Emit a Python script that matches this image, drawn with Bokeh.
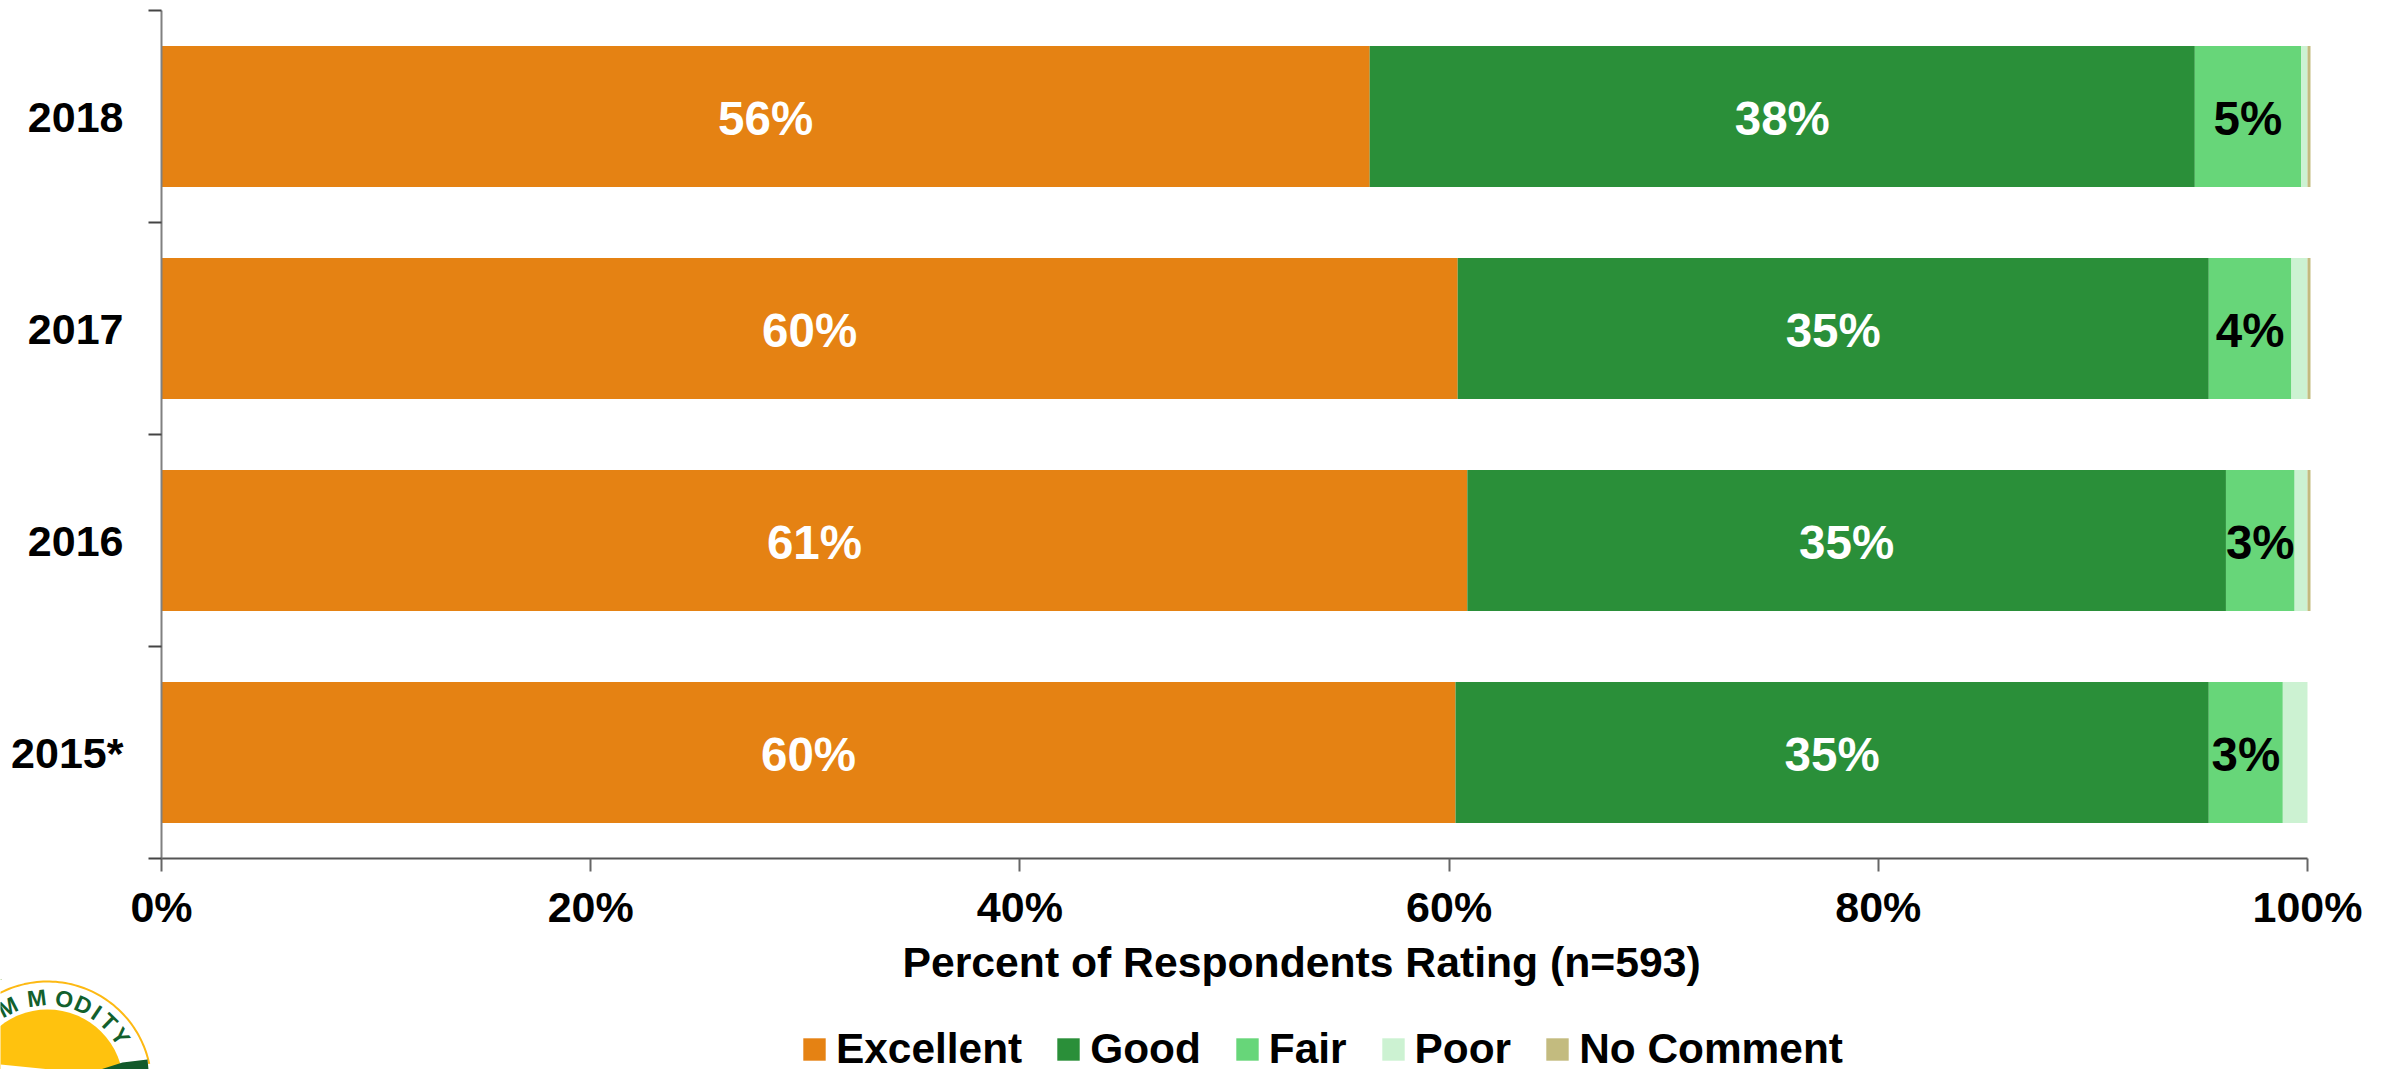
import numpy as np
from bokeh.core.properties import value
from bokeh.embed import file_html
from bokeh.layouts import column
from bokeh.models import ColumnDataSource, FixedTicker, Legend, Title
from bokeh.plotting import figure
from bokeh.resources import INLINE

# Survey years, bottom bar first
years = ["2015*", "2016", "2017", "2018"]
excellent = [60.3, 60.85, 60.4, 56.3]
good = [35.1, 35.35, 35.0, 38.45]
fair = [3.45, 3.2, 3.85, 4.95]
poor = [1.15, 0.6, 0.75, 0.3]
no_comment = [0.0, 0.14, 0.14, 0.14]

ratings = ["Excellent", "Good", "Fair", "Poor", "No Comment"]
colors = ["#E58213", "#2A8F39", "#67D679", "#CCF2D2", "#C3BB7F"]
x_ticks = [0, 20, 40, 60, 80, 100]
axis_title = "Percent of Respondents Rating (n=593)"
logo_letters = list("MMODITY")
logo_letter_angles = [-27, -7, 11, 24, 34, 44, 56]

FONT = "Liberation Sans"
series = [excellent, good, fair, poor, no_comment]
positions = [i + 0.5 for i in range(len(years))]

source = ColumnDataSource({"y": positions, **dict(zip(ratings, series))})

p = figure(
    width=2395, height=1069, x_range=(0, 101.305), y_range=(0, 4),
    output_backend="svg", toolbar_location=None,
    min_border_left=161, min_border_right=60, min_border_top=10, min_border_bottom=211,
)
p.outline_line_color = None
p.grid.visible = False

p.hbar_stack(ratings, y="y", height=0.666, color=colors, line_color=None, source=source)

# Whole-percent labels on the three largest segments of each bar
label_colors = ["white", "white", "black"]
left = np.zeros(len(years))
for values, text_color in zip(series[:3], label_colors):
    vals = np.array(values)
    p.text(
        x=left + vals / 2, y=np.array(positions) - 0.009, text=[f"{round(v)}%" for v in values],
        text_color=text_color, text_font=value(FONT), text_font_style="bold",
        text_font_size="47.5px", text_align="center", text_baseline="middle",
    )
    left = left + vals

xaxis = p.xaxis[0]
xaxis.ticker = FixedTicker(ticks=x_ticks)
xaxis.major_label_overrides = {t: f"{t}%" for t in x_ticks}
xaxis.bounds = (0, 100)
xaxis.axis_line_color = "#555555"
xaxis.axis_line_width = 2
xaxis.major_tick_line_color = "#666666"
xaxis.major_tick_line_width = 2
xaxis.major_tick_in = 0
xaxis.major_tick_out = 13
xaxis.minor_tick_line_color = None
xaxis.major_label_standoff = 11
xaxis.major_label_text_font = FONT
xaxis.major_label_text_font_style = "bold"
xaxis.major_label_text_font_size = "43px"
xaxis.major_label_text_color = "black"

# Year labels sit mid-band; the tick marks fall on the band boundaries
yaxis = p.yaxis[0]
yaxis.ticker = FixedTicker(ticks=positions, minor_ticks=list(range(len(years) + 1)))
yaxis.major_label_overrides = dict(zip(positions, years))
yaxis.bounds = (0, 4)
yaxis.axis_line_color = "#808080"
yaxis.axis_line_width = 2
yaxis.major_tick_line_color = None
yaxis.major_tick_in = 0
yaxis.major_tick_out = 0
yaxis.minor_tick_line_color = "#444444"
yaxis.minor_tick_line_width = 2
yaxis.minor_tick_in = 0
yaxis.minor_tick_out = 13
yaxis.major_label_standoff = 25
yaxis.major_label_text_font = FONT
yaxis.major_label_text_font_style = "bold"
yaxis.major_label_text_font_size = "43px"
yaxis.major_label_text_color = "black"

# The axis caption sits right of the plot centre, so it is an offset title rather than an axis label
p.add_layout(Title(
    text=axis_title, align="left", offset=741, standoff=5, text_font=FONT,
    text_font_style="bold", text_font_size="42.7px", text_color="black",
), "below")

# Footer strip over the lower page edge: legend and the organisation seal, cut off by the corner
footer = figure(
    width=2395, height=90, x_range=(0, 2395), y_range=(1069, 979),
    frame_width=2395, frame_height=90,
    output_backend="svg", toolbar_location=None,
    min_border_left=0, min_border_right=0, min_border_top=0, min_border_bottom=0,
    x_axis_location=None, y_axis_location=None, sizing_mode="fixed",
    background_fill_color=None, border_fill_color=None,
)
footer.grid.visible = False
footer.outline_line_color = None

# Legend keys take their fill from bars parked above the visible strip
keys = [
    footer.hbar(y=[0], left=[0], right=[1], height=1, color=c, line_color=None)
    for c in colors
]
legend = Legend(
    items=[(name, [key]) for name, key in zip(ratings, keys)],
    orientation="horizontal", location=(800, -4),
    glyph_width=28, glyph_height=28, label_standoff=8, spacing=32,
    padding=0, margin=0, border_line_color=None, background_fill_color=None,
    label_text_font=FONT, label_text_font_style="bold", label_text_font_size="42.4px",
    label_text_color="black",
)
footer.add_layout(legend, "center")

cx, cy = 47, 1085
footer.circle(x=[cx], y=[cy], radius=76, fill_color="#FFC20E", line_color=None)
ring = np.radians(np.linspace(-60, 78, 80))
footer.line(cx + 104 * np.sin(ring), cy - 104 * np.cos(ring), line_color="#FDB913", line_width=2)
letter_rad = np.radians(logo_letter_angles)
footer.text(
    x=cx + 88 * np.sin(letter_rad), y=cy - 88 * np.cos(letter_rad), text=logo_letters,
    angle=[-a for a in logo_letter_angles], angle_units="deg",
    text_color="#12602D", text_font=value(FONT), text_font_style="bold",
    text_font_size="23px", text_align="center", text_baseline="middle",
)
footer.patch([100, 122, 147, 148, 100], [1069, 1062, 1059, 1069, 1069], fill_color="#125A2A", line_color=None)
footer.patch([0, 50, 0], [1064, 1069, 1069], fill_color="white", line_color=None)

strip = column(footer, width=2395, height=90,
               styles={"position": "absolute", "left": "0px", "top": "979px"})
open("out.html", "w").write(file_html(column(p, strip, spacing=0), INLINE))
